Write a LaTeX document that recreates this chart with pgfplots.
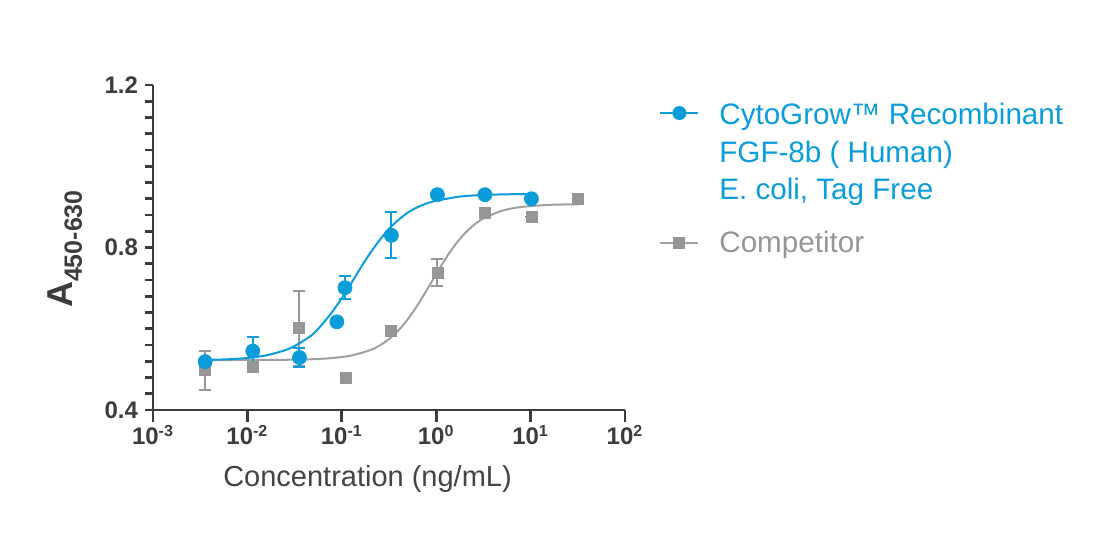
\documentclass[border=0pt]{standalone}
\usepackage{pgfplots}
\pgfplotsset{compat=1.18}
\usepackage{pgfplotstable}
\usepackage{fontspec}
\setmainfont{Liberation Sans}
\definecolor{cblue}{RGB}{10,157,218}
\definecolor{cgray}{RGB}{150,150,150}
\definecolor{cgrayline}{RGB}{160,160,160}
\definecolor{caxis}{RGB}{60,60,60}
\definecolor{clabel}{RGB}{68,68,68}

\pgfplotstableread{
x y e
0.00357 0.519 0
0.0114 0.545 0.035
0.0356 0.529 0.024
0.0886 0.617 0
0.108 0.701 0.029
0.335 0.830 0.057
1.03 0.930 0
3.28 0.930 0
10.2 0.920 0
}\bluedata

\pgfplotstableread{
x y e
0.00357 0.498 0.048
0.0114 0.507 0
0.0348 0.601 0.093
0.111 0.480 0
0.330 0.595 0
1.03 0.738 0.034
3.28 0.886 0
10.2 0.875 0
31.4 0.919 0
}\graydata

\pgfplotstableread{
x y
0.003548 0.5232
0.00631 0.5249
0.01 0.5281
0.01585 0.5345
0.02512 0.5472
0.03162 0.5574
0.03981 0.5713
0.05012 0.5877
0.0631 0.613
0.07943 0.642
0.1 0.675
0.1259 0.712
0.1585 0.750
0.1995 0.786
0.2512 0.818
0.3162 0.846
0.3981 0.868
0.5012 0.886
0.631 0.899
0.7943 0.9085
1 0.915
1.778 0.9254
3.162 0.9293
5.623 0.9309
10.23 0.9317
}\bluefit

\pgfplotstableread{
x y
0.003548 0.5230
0.01 0.5231
0.02512 0.5236
0.05012 0.5251
0.07943 0.5279
0.1259 0.5340
0.1995 0.5473
0.2512 0.5586
0.3162 0.5745
0.3981 0.5959
0.5012 0.6236
0.631 0.6572
0.7943 0.6952
1 0.7348
1.259 0.7728
1.585 0.8064
1.995 0.8340
2.512 0.8556
3.162 0.8714
5.012 0.8906
7.943 0.8997
15.85 0.9049
31.62 0.9064
}\grayfit

\begin{document}
\begin{tikzpicture}[x=1pt,y=1pt]
\useasboundingbox (0,0) rectangle (552,267);
\begin{axis}[
  at={(76.5pt,62pt)}, anchor=south west,
  scale only axis, width=236pt, height=162.5pt,
  xmode=log, log basis x=10,
  xmin=1e-3, xmax=1e2, ymin=0.4, ymax=1.2,
  axis x line*=bottom, axis y line*=left,
  axis line style={-, line width=1.4pt, caxis},
  xtick={0.001,0.01,0.1,1,10,100},
  xticklabels={10\textsuperscript{-3},10\textsuperscript{-2},10\textsuperscript{-1},10\textsuperscript{0},10\textsuperscript{1},10\textsuperscript{2}},
  xminorticks=false,
  ytick={0.4,0.8,1.2},
  yticklabels={0.4,0.8,1.2},
  minor y tick num=9,
  tick align=outside,
  major tick length=4pt, minor tick length=4pt,
  tick style={line width=1.4pt, caxis},
  x tick style={/pgfplots/major tick length=6pt},
  ticklabel style={font=\fontsize{12}{14}\selectfont\bfseries, color=caxis},
  xlabel={Concentration (ng/mL)},
  xlabel style={font=\fontsize{14.5}{17}\selectfont, color=clabel,
    at={(axis description cs:0.4545,0)}, anchor=base, yshift=-38.35pt},
  ylabel={\fontsize{18}{20}\selectfont\bfseries A\raisebox{-4.5pt}{\fontsize{12.5}{14}\selectfont 450-630}},
  ylabel style={color=caxis, at={(axis description cs:-0.1695,0.495)}, anchor=base, rotate=0},
  clip=false,
  legend style={draw=none, fill=none, at={(1.072,0.96)}, anchor=north west,
    inner sep=0pt, nodes={inner sep=0pt, font=\fontsize{14.8}{18.8}\selectfont},
    column sep=10pt, row sep=51.7pt},
  legend cell align=left,
  legend image code/.code={\draw[mark repeat=2,mark phase=2,#1] plot coordinates {(0pt,0pt)(9.5pt,0pt)(19pt,0pt)};},
]
\addlegendimage{cblue, line width=1pt, mark=*, mark size=3pt, mark options={solid}}
\addlegendentry[text=cblue]{\begin{tabular}[t]{@{}l@{}}CytoGrow\texttrademark{} Recombinant\\FGF-8b ( Human)\\E. coli, Tag Free\end{tabular}}
\addlegendimage{cgrayline, line width=1pt, mark=square*, mark size=2.5pt, mark options={cgray}}
\addlegendentry[text=cgray]{Competitor}

\addplot[forget plot, smooth, cgrayline, line width=1pt] table[x=x,y=y]{\grayfit};
\addplot[forget plot, only marks, mark=square*, mark size=2.75pt, color=cgray,
  error bars/.cd, y dir=both, y explicit,
  error bar style={line width=1pt, cgray},
  error mark options={rotate=90, mark size=3pt, line width=1pt, cgray}]
  table[x=x,y=y,y error=e]{\graydata};
\addplot[forget plot, smooth, cblue, line width=1pt] table[x=x,y=y]{\bluefit};
\addplot[forget plot, only marks, mark=*, mark size=3.5pt, color=cblue,
  error bars/.cd, y dir=both, y explicit,
  error bar style={line width=1pt, cblue},
  error mark options={rotate=90, mark size=3pt, line width=1pt, cblue}]
  table[x=x,y=y,y error=e]{\bluedata};
\end{axis}
\end{tikzpicture}
\end{document}
